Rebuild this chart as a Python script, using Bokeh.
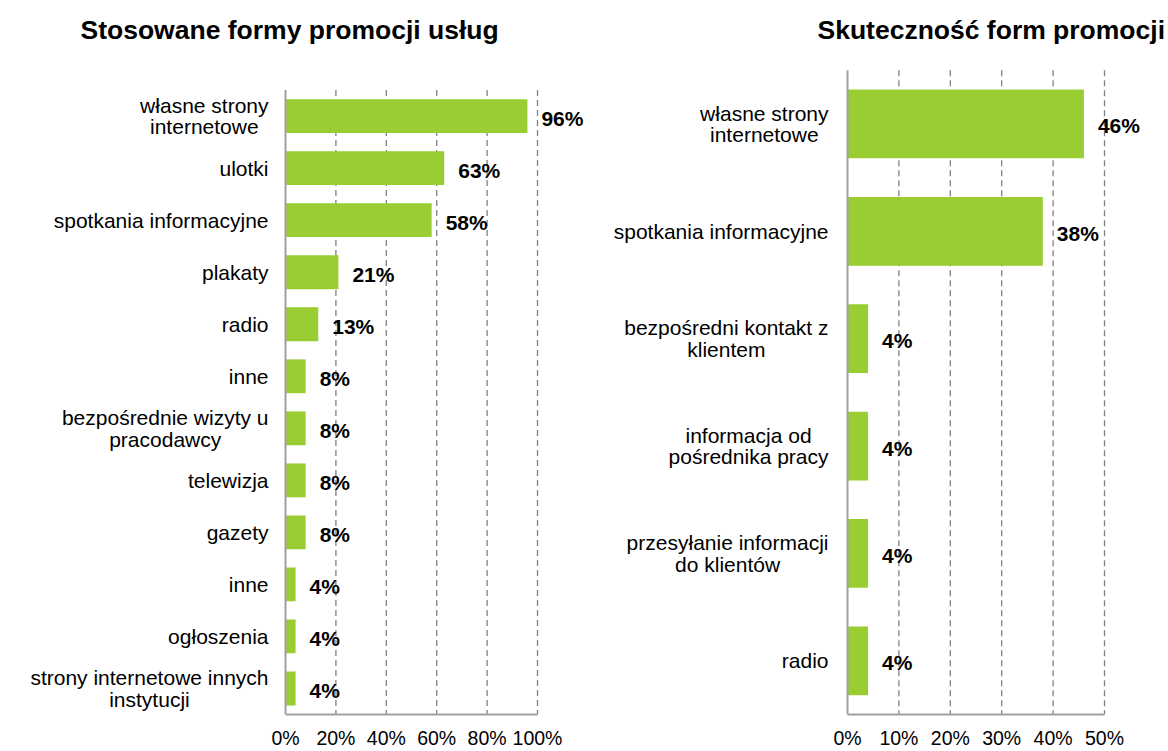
from bokeh.plotting import figure
from bokeh.models import Range1d, FixedTicker, PrintfTickFormatter, ColumnDataSource
from bokeh.layouts import row
from bokeh.embed import file_html
from bokeh.resources import INLINE
from bokeh.core.properties import value

# ---------------- data ----------------
left_title = "Stosowane formy promocji usług"
left_categories = [
    "własne strony\ninternetowe",
    "ulotki",
    "spotkania informacyjne",
    "plakaty",
    "radio",
    "inne",
    "bezpośrednie wizyty u\npracodawcy",
    "telewizja",
    "gazety",
    "inne",
    "ogłoszenia",
    "strony internetowe innych\ninstytucji",
]
left_values = [96, 63, 58, 21, 13, 8, 8, 8, 8, 4, 4, 4]
left_ticks = [0, 20, 40, 60, 80, 100]

right_title = "Skuteczność form promocji"
right_categories = [
    "własne strony\ninternetowe",
    "spotkania informacyjne",
    "bezpośredni kontakt z\nklientem",
    "informacja od\npośrednika pracy",
    "przesyłanie informacji\ndo klientów",
    "radio",
]
right_values = [46, 38, 4, 4, 4, 4]
right_ticks = [0, 10, 20, 30, 40, 50]

# ---------------- style ----------------
GREEN = "#9acd32"
AXIS_GREY = "#a0a0a0"
GRID_GREY = "#808080"
FONT = "Liberation Sans"
LABEL_SIZE = 21
FIG_H = 751
BOTTOM = 34

# Arial / Liberation Sans advance widths (1/1000 em) for centring label lines
_W = {' ': 278, 'a': 556, 'b': 556, 'c': 500, 'd': 556, 'e': 556, 'f': 278,
      'g': 556, 'h': 556, 'i': 222, 'j': 222, 'k': 500, 'l': 222, 'm': 833,
      'n': 556, 'o': 556, 'p': 556, 'q': 556, 'r': 333, 's': 500, 't': 278,
      'u': 556, 'v': 500, 'w': 722, 'x': 500, 'y': 500, 'z': 500, 'ł': 222,
      'ś': 500, 'ó': 556, 'ć': 500, 'ż': 500, 'ź': 500, 'ą': 556, 'ę': 556,
      'ń': 556}


def block_width(text, size):
    return max(sum(_W.get(ch, 556) for ch in line) * size / 1000
               for line in text.split("\n"))


def make_chart(title, cats, vals, ticks, width, axis_px, px_per_unit,
               bands_top, label_standoff, bar_h, title_dx):
    n = len(cats)
    idx = list(range(n))
    frame_h = FIG_H - BOTTOM
    band_px = (frame_h - bands_top) / n
    x_range = Range1d(-axis_px / px_per_unit, (width - axis_px) / px_per_unit)
    y_range = Range1d(n - 0.5, -0.5 - bands_top / band_px)
    p = figure(
        width=width, height=FIG_H, x_range=x_range, y_range=y_range,
        output_backend="svg", toolbar_location=None,
        min_border_left=0, min_border_top=0, min_border_right=0,
        min_border_bottom=BOTTOM,
        outline_line_color=None, background_fill_color="white",
        border_fill_color="white",
    )

    # dashed vertical gridlines (only over the category band area)
    gl = ticks[1:]
    p.segment(x0=gl, x1=gl, y0=[-0.5] * len(gl), y1=[n - 0.5] * len(gl),
              line_color=GRID_GREY, line_dash="6 4", line_width=1.3)

    src = ColumnDataSource(dict(y=idx, v=vals, lab=[f"{v}%" for v in vals]))
    p.hbar(y="y", right="v", left=0, height=bar_h, source=src,
           fill_color=GREEN, line_color=None)
    p.text(x="v", y="y", text="lab", source=src, x_offset=14, y_offset=2,
           text_font=value(FONT), text_font_size="21px",
           text_font_style="bold", text_color="black",
           text_align="left", text_baseline="middle")

    # vertical category axis line
    p.segment(x0=[ticks[0]], x1=[ticks[0]], y0=[-0.5], y1=[n - 0.5],
              line_color=AXIS_GREY, line_width=2)

    # category labels: right-aligned blocks, centred lines
    csrc = ColumnDataSource(dict(
        x=[ticks[0]] * n, y=idx, t=cats,
        off=[-(label_standoff + block_width(c, LABEL_SIZE) / 2) for c in cats]))
    p.text(x="x", y="y", text="t", x_offset="off", source=csrc,
           text_font=value(FONT), text_font_size=f"{LABEL_SIZE}px",
           text_color="black", text_align="center",
           text_baseline="middle", text_line_height=0.94)

    # title
    tsrc = ColumnDataSource(dict(x=[ticks[0]], y=[-0.5], t=[title]))
    p.text(x="x", y="y", text="t", source=tsrc, x_offset=title_dx,
           y_offset=-(bands_top - 30),
           text_font=value(FONT), text_font_size="26.5px",
           text_font_style="bold", text_color="black",
           text_align="left", text_baseline="middle")

    # x axis
    xa = p.xaxis[0]
    xa.ticker = FixedTicker(ticks=ticks)
    xa.formatter = PrintfTickFormatter(format="%d%%")
    xa.bounds = (ticks[0], ticks[-1])
    xa.axis_line_color = AXIS_GREY
    xa.axis_line_width = 2
    xa.major_tick_line_color = None
    xa.minor_tick_line_color = None
    xa.major_tick_out = 0
    xa.major_tick_in = 0
    xa.major_label_standoff = 12
    xa.major_label_text_font = FONT
    xa.major_label_text_font_size = "19.5px"
    xa.major_label_text_color = "black"

    p.yaxis.visible = False
    p.grid.grid_line_color = None
    return p


left = make_chart(left_title, left_categories, left_values, left_ticks,
                  width=595, axis_px=285, px_per_unit=2.52, bands_top=90,
                  label_standoff=17, bar_h=0.65, title_dx=-205)
right = make_chart(right_title, right_categories, right_values, right_ticks,
                   width=573, axis_px=252, px_per_unit=5.14, bands_top=70,
                   label_standoff=19, bar_h=0.64, title_dx=-30)

layout = row(left, right)
open("out.html", "w").write(file_html(layout, INLINE))
